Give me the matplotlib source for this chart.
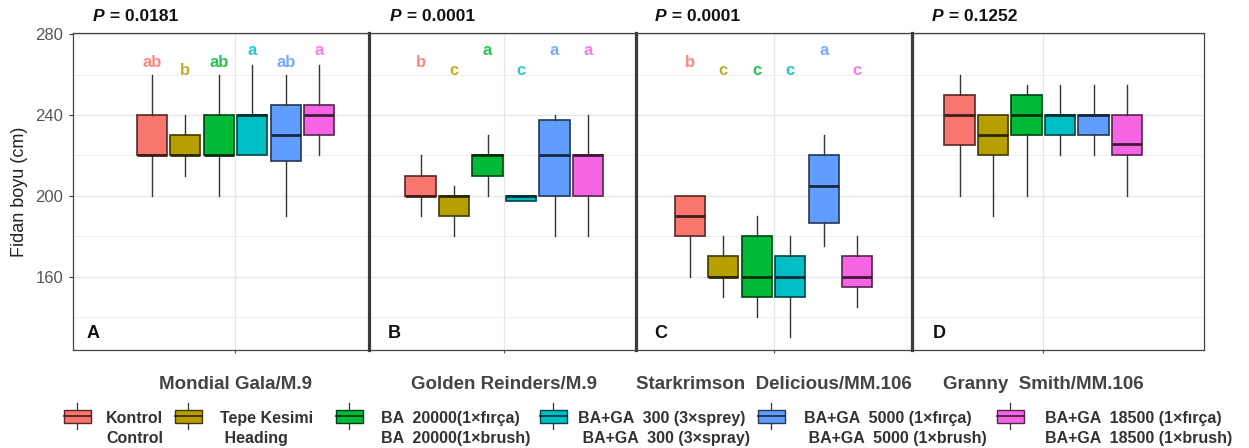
import numpy as np
import matplotlib
matplotlib.use("Agg")
import matplotlib.pyplot as plt
from matplotlib.patches import Rectangle
from matplotlib.colors import to_rgb

plt.rcParams['font.family'] = ['Liberation Sans', 'DejaVu Sans']

# ---------------- data ----------------
cultivars = ["Mondial Gala/M.9", "Golden Reinders/M.9",
             "Starkrimson  Delicious/MM.106", "Granny  Smith/MM.106"]
panel_tags = ["A", "B", "C", "D"]
p_values = ["0.0181", "0.0001", "0.0001", "0.1252"]

treat_tr = ["Kontrol", "Tepe Kesimi", "BA  20000(1×fırça)",
            "BA+GA  300 (3×sprey)", "BA+GA  5000 (1×fırça)", "BA+GA  18500 (1×fırça)"]
treat_en = ["Control", " Heading", "BA  20000(1×brush)",
            " BA+GA  300 (3×spray)", " BA+GA  5000 (1×brush)", "BA+GA  18500 (1×brush)"]
colors = ['#F8766D', '#B79F00', '#00BA38', '#00BFC4', '#619CFF', '#F564E3']

whislo = [[200, 210, 200, 220, 190, 220],
          [190, 180, 200, 197.5, 180, 180],
          [160, 150, 140, 130, 175, 145],
          [200, 190, 200, 220, 220, 200]]
q1 = [[220, 220, 220, 220, 217, 230],
      [200, 190, 210, 197.5, 200, 200],
      [180, 160, 150, 150, 186.5, 155],
      [225, 220, 230, 230, 230, 220]]
med = [[220, 220, 220, 240, 230, 240],
       [200, 200, 220, 200, 220, 220],
       [190, 160, 160, 160, 205, 160],
       [240, 230, 240, 240, 240, 225.5]]
q3 = [[240, 230, 240, 240, 245, 245],
      [210, 200, 220, 200, 237.5, 220],
      [200, 170, 180, 170, 220, 170],
      [250, 240, 250, 240, 240, 240]]
whishi = [[260, 240, 260, 265, 260, 265],
          [220, 205, 230, 200, 240, 240],
          [200, 180, 190, 180, 230, 180],
          [260, 240, 255, 255, 255, 255]]

letters = [["ab", "b", "ab", "a", "ab", "a"],
           ["b", "c", "a", "c", "a", "a"],
           ["b", "c", "c", "c", "a", "c"],
           ["", "", "", "", "", ""]]
letter_y = [[264, 260, 264, 269.5, 264, 269.5],
            [264, 260, 269.5, 260, 269.5, 269.5],
            [264, 260, 260, 260, 269.5, 260],
            [264, 264, 264, 264, 264, 264]]

yticks_major = [160, 200, 240, 280]
yticks_minor = [140, 180, 220, 260]

# ---------------- layout ----------------
W, H = 1249, 448
fig = plt.figure(figsize=(W / 100, H / 100), dpi=100)
edges = [73, 368.5, 636, 912, 1204]
centers = [235.5, 504.3, 773.5, 1043.3]
slot = 33.5
top_px, bot_px = 33, 350


def dark(c, f=0.35):
    r, g, b = to_rgb(c)
    return (r * f, g * f, b * f)


for k in range(4):
    ax = fig.add_axes([edges[k] / W, 1 - bot_px / H,
                       (edges[k + 1] - edges[k]) / W, (bot_px - top_px) / H])
    ax.set_facecolor('none')
    ax.set_xlim((edges[k] - centers[k]) / slot, (edges[k + 1] - centers[k]) / slot)
    ax.set_ylim(123.7, 280.6)
    stats = []
    for i in range(6):
        stats.append(dict(whislo=whislo[k][i], q1=q1[k][i], med=med[k][i],
                          q3=q3[k][i], whishi=whishi[k][i], fliers=[]))
    pos = np.arange(6) - 2.5
    bp = ax.bxp(stats, positions=pos, widths=0.9, patch_artist=True,
                showcaps=False, showfliers=False,
                whiskerprops=dict(color='#333333', lw=1.0),
                medianprops=dict(lw=2.0), boxprops=dict(lw=1.2),
                manage_ticks=False, zorder=3)
    for i, (patch, mline) in enumerate(zip(bp['boxes'], bp['medians'])):
        patch.set_facecolor(colors[i])
        patch.set_edgecolor(dark(colors[i]))
        mline.set_color(dark(colors[i], 0.25))
    for i in range(6):
        if letters[k][i]:
            ax.text(pos[i], letter_y[k][i], letters[k][i], color=colors[i], alpha=0.85,
                    ha='center', va='baseline', fontsize=12, fontweight='bold')

    ax.set_yticks(yticks_major)
    ax.set_yticks(yticks_minor, minor=True)
    ax.set_xticks([0])
    ax.set_xticklabels([cultivars[k]], fontsize=13.5, fontweight='bold', color='#444444')
    ax.tick_params(axis='x', length=2.5, width=0.8, color='#555555', pad=16)
    ax.grid(True, which='major', color='#E6E6E6', lw=0.9, zorder=0)
    ax.grid(True, which='minor', axis='y', color='#EEEEEE', lw=0.7, zorder=0)
    ax.tick_params(axis='y', which='minor', length=0)
    ax.set_axisbelow(True)
    if k == 0:
        ax.tick_params(axis='y', which='major', length=3, width=0.8, color='#333333',
                       labelsize=12, labelcolor='#555555', pad=4)
    else:
        ax.tick_params(axis='y', which='major', left=False, labelleft=False)
    for s in ['top', 'bottom', 'left', 'right']:
        ax.spines[s].set_color('#444444')
        ax.spines[s].set_linewidth(0.9)
    if k > 0:
        ax.spines['left'].set_linewidth(2.3)
        ax.spines['left'].set_color('#3a3a3a')
    if k < 3:
        ax.spines['right'].set_visible(False)

# ---------------- overlay (annotations & legend) ----------------
ov = fig.add_axes([0, 0, 1, 1])
ov.set_xlim(0, W)
ov.set_ylim(H, 0)
ov.axis('off')
ov.patch.set_alpha(0)

p_x = [93, 390, 655, 932]
tag_x = [87, 388, 654, 933]
for k in range(4):
    pt = ov.text(p_x[k], 21, "P", fontsize=12.5, fontweight='bold', style='italic',
                 ha='left', va='baseline', color='#111111')
    ov.annotate(" = " + p_values[k], xy=(1, 0), xycoords=pt, fontsize=12.5,
                fontweight='bold', ha='left', va='bottom', color='#111111')
    ov.text(tag_x[k], 338, panel_tags[k], fontsize=13, fontweight='bold',
            ha='left', va='baseline', color='#111111')

ov.text(20, 191.5, "Fidan boyu (cm)", rotation=90, ha='center', va='center',
        fontsize=13, color='#222222')

key_x = [64, 175, 336, 540, 758, 997]
txt_x = [106, 220, 381, 578, 804, 1045]
kw, by0, by1 = 27, 410, 423
for i in range(6):
    cx = key_x[i] + kw / 2
    ov.plot([cx, cx], [403, 429], color='#333333', lw=0.9)
    ov.add_patch(Rectangle((key_x[i], by0), kw, by1 - by0, facecolor=colors[i],
                           edgecolor=dark(colors[i]), lw=1.0, zorder=3))
    ov.plot([key_x[i], key_x[i] + kw], [(by0 + by1) / 2] * 2,
            color=dark(colors[i], 0.25), lw=1.2, zorder=4)
    ov.text(txt_x[i], 423, treat_tr[i], fontsize=11.5, fontweight='bold',
            color='#333333', ha='left', va='baseline')
    ov.text(txt_x[i], 443, treat_en[i], fontsize=11.5, fontweight='bold',
            color='#333333', ha='left', va='baseline')

fig.savefig("out.png", dpi=100)
